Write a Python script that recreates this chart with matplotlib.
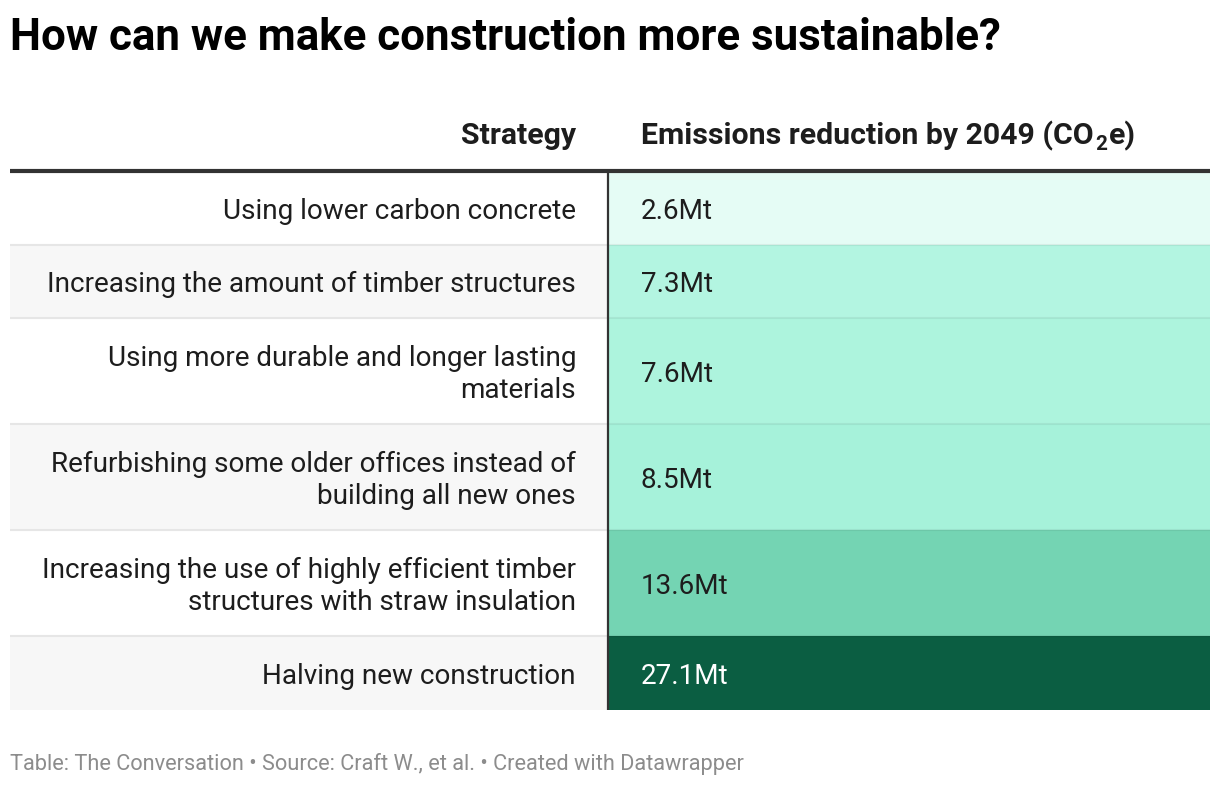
import matplotlib
matplotlib.use("Agg")
import matplotlib.pyplot as plt
from matplotlib.patches import Rectangle

plt.rcParams['font.family'] = ['Roboto', 'DejaVu Sans']

title = "How can we make construction more sustainable?"
col_headers = ["Strategy", "Emissions reduction by 2049 (CO", "2", "e)"]
strategies = [
    "Using lower carbon concrete",
    "Increasing the amount of timber structures",
    "Using more durable and longer lasting\nmaterials",
    "Refurbishing some older offices instead of\nbuilding all new ones",
    "Increasing the use of highly efficient timber\nstructures with straw insulation",
    "Halving new construction",
]
reductions_mt = [2.6, 7.3, 7.6, 8.5, 13.6, 27.1]
cell_colors = ["#e5fcf5", "#b3f5e1", "#adf4dd", "#a6f2da", "#74d4b3", "#0b5e42"]
text_colors = ["#1d1d1d", "#1d1d1d", "#1d1d1d", "#1d1d1d", "#1d1d1d", "#ffffff"]
footer = "Table: The Conversation • Source: Craft W., et al. • Created with Datawrapper"

W, H = 1220, 786
fig = plt.figure(figsize=(W / 100, H / 100), dpi=100)
ax = fig.add_axes([0, 0, 1, 1])
ax.set_xlim(0, W)
ax.set_ylim(H, 0)
ax.axis('off')

left, right, divider = 10, 1210, 608
top = 171
single_h, double_h = 73.5, 106
body_fs = 20.1
head_fs = 21.8

ax.text(10, 38, title, fontsize=31.6, fontweight='bold', color='#000000', va='center', ha='left')
ax.text(576, 136, col_headers[0], fontsize=head_fs, fontweight='bold', color='#1d1d1d', va='center', ha='right')

# header text with subscript via separate pieces
tr = ax.transData.inverted()
t1 = ax.text(641, 136, col_headers[1], fontsize=head_fs, fontweight='bold', color='#1d1d1d', va='center', ha='left')
fig.canvas.draw()
xd = tr.transform((t1.get_window_extent().x1, 0))[0]
t2 = ax.text(xd + 1.5, 144, col_headers[2], fontsize=head_fs * 0.68, fontweight='bold', color='#1d1d1d', va='center', ha='left')
fig.canvas.draw()
xd2 = tr.transform((t2.get_window_extent().x1, 0))[0]
ax.text(xd2 + 1.5, 136, col_headers[3], fontsize=head_fs, fontweight='bold', color='#1d1d1d', va='center', ha='left')

y = top
for i, (s, v) in enumerate(zip(strategies, reductions_mt)):
    h = double_h if "\n" in s else single_h
    bg = "#ffffff" if i % 2 == 0 else "#f7f7f7"
    ax.add_patch(Rectangle((left, y), divider - left, h, facecolor=bg, edgecolor='none'))
    ax.add_patch(Rectangle((divider, y), right - divider, h, facecolor=cell_colors[i], edgecolor='none'))
    if i > 0:
        ax.plot([left, divider], [y, y], color='#e6e6e6', lw=1.5, solid_capstyle='butt')
        ax.plot([divider, right], [y, y], color='#000000', alpha=0.06, lw=1.5, solid_capstyle='butt')
    ax.text(576, y + h / 2 + 3.5, s, fontsize=body_fs, color='#1d1d1d', va='center', ha='right',
            multialignment='right', linespacing=1.2)
    ax.text(641, y + h / 2 + 3.5, f"{v:.1f}Mt", fontsize=body_fs, color=text_colors[i], va='center', ha='left')
    y += h

ax.plot([divider, divider], [top, y], color='#333333', lw=1.6, solid_capstyle='butt')
ax.plot([left, right], [top, top], color='#333333', lw=3, solid_capstyle='butt')

ax.text(10, 764, footer, fontsize=15.7, color='#8c8c8c', va='center', ha='left')

fig.savefig("out.png", dpi=100)
